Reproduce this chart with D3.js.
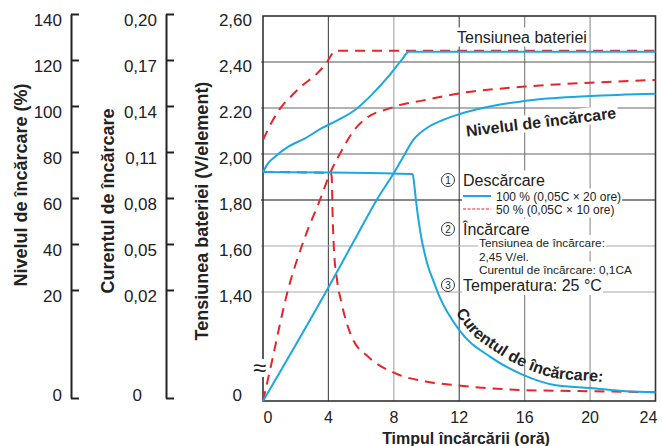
<!DOCTYPE html>
<html>
<head>
<meta charset="utf-8">
<script src="https://cdn.jsdelivr.net/npm/d3@7"></script>
<style>
body { margin: 0; background: #fff; }
text { font-family: "Liberation Sans", Arial, sans-serif; fill: #222; }
</style>
</head>
<body>
<svg width="662" height="446"></svg>
<script>
// ---------------------------------------------------------------
// data
// ---------------------------------------------------------------
var hourTicks = [0, 4, 8, 12, 16, 20, 24];
var pctTicks = [0, 20, 40, 60, 80, 100, 120, 140];
var pctLabels = ["0", "20", "40", "60", "80", "100", "120", "140"];
var curTicks = [0, 0.02, 0.05, 0.08, 0.11, 0.14, 0.17, 0.20];
var curLabels = ["0", "0,02", "0,05", "0,08", "0,11", "0,14", "0,17", "0,20"];
var voltTicks = [0, 1.4, 1.6, 1.8, 2.0, 2.2, 2.4, 2.6];
var voltLabels = ["0", "1,40", "1,60", "1,80", "2,00", "2.20", "2,40", "2,60"];

// [hour, V/element]
var volt100 = [[0, 1.922], [0.3, 1.958], [0.73, 1.988], [1.55, 2.032], [2.57, 2.068], [3.59, 2.112],
  [4.6, 2.148], [5.62, 2.191], [6.64, 2.257], [7.66, 2.336], [8.48, 2.409], [8.92, 2.445], [24, 2.445]];
var volt50 = [[0, 2.061], [0.57, 2.143], [1.1, 2.203], [1.75, 2.253], [2.46, 2.301], [3.14, 2.339],
  [3.79, 2.387], [4.46, 2.449], [24, 2.449]];
// [hour, %]
var level100 = [[0, 0], [4, 22], [5.93, 47], [6.95, 60], [7.96, 71.3], [8.58, 78.8], [9.19, 86.1],
  [10, 91.2], [11, 94.8], [12, 97.3], [14.5, 101.5], [16.5, 103.5], [20, 105.2], [24, 106.2]];
var level50 = [[0, 0], [0.43, 5.7], [1.53, 20.9], [2.57, 43.9], [3.48, 60], [4.16, 72.6], [4.83, 81.7],
  [5.44, 89.1], [6.42, 96.1], [7.64, 99.6], [8.37, 101.3], [9.72, 103.2], [12.04, 106.4], [16, 109.3],
  [20, 111], [24, 112.2]];
// [hour, CA]
var cur100 = [[0, 0.0983], [9.15, 0.097], [9.25, 0.0898], [9.35, 0.080], [9.6, 0.0604], [10.1, 0.0365],
  [10.4, 0.0278], [10.8, 0.0191], [12, 0.0130], [13.9, 0.0081], [15.9, 0.0048], [17.9, 0.0029],
  [20, 0.0024], [22.2, 0.0018], [24, 0.0016]];
var cur50 = [[0, 0.0983], [4.15, 0.0976], [4.2, 0.0952], [4.26, 0.0691], [4.34, 0.0474], [4.5, 0.030],
  [4.81, 0.0179], [5.42, 0.0118], [6.44, 0.0081], [8.07, 0.0051], [10.1, 0.0035], [11.74, 0.0029],
  [16, 0.0020], [20, 0.0018], [24, 0.0016]];

// ---------------------------------------------------------------
// scales (the lowest band of every y axis is stretched: 0 .. first tick)
// ---------------------------------------------------------------
var svg = d3.select("svg");
var plotL = 263, plotR = 655.5, plotT = 16, plotB = 401;
var blue = "#1ba7e1", red = "#e8242b";

var x = d3.scaleLinear().domain([0, 24]).range([plotL, plotR]);
var yVolt = d3.scaleLinear().domain([0, 1.4, 2.6]).range([plotB, 292, plotT]);
var yLevel = d3.scaleLinear().domain([0, 20, 140]).range([plotB, 292, plotT]);
var yCur = d3.scaleLinear().domain([0, 0.02, 0.20]).range([plotB, 292, plotT]);

// grid
var vGridColor = {4: "#555", 8: "#aaa", 12: "#555", 16: "#888", 20: "#999"};
var hGridColor = {1.4: "#aaa", 1.6: "#aaa", 1.8: "#111", 2.0: "#666", 2.2: "#666", 2.4: "#555"};

svg.append("g").selectAll("line")
  .data(hourTicks.filter(d => d > 0 && d < 24))
  .join("line")
  .attr("x1", d => x(d)).attr("x2", d => x(d))
  .attr("y1", plotT).attr("y2", plotB)
  .attr("stroke", d => vGridColor[d]).attr("stroke-width", 1.2);

svg.append("g").selectAll("line")
  .data(voltTicks.filter(d => d > 0 && d < 2.6))
  .join("line")
  .attr("x1", plotL - 2).attr("x2", plotR)
  .attr("y1", d => yVolt(d)).attr("y2", d => yVolt(d))
  .attr("stroke", d => hGridColor[d]).attr("stroke-width", 1.2);

svg.append("rect")
  .attr("x", plotL).attr("y", plotT)
  .attr("width", plotR - plotL).attr("height", plotB - plotT)
  .attr("fill", "none").attr("stroke", "#333").attr("stroke-width", 1.6);

// ---------------------------------------------------------------
// curves
// ---------------------------------------------------------------
function lineFor(yScale) {
  return d3.line().x(d => x(d[0])).y(d => yScale(d[1])).curve(d3.curveMonotoneX);
}
var series = [
  {data: level50, y: yLevel, color: red, dash: "10,7"},
  {data: cur50, y: yCur, color: red, dash: "10,7"},
  {data: volt50, y: yVolt, color: red, dash: "10,7"},
  {data: level100, y: yLevel, color: blue, dash: null},
  {data: cur100, y: yCur, color: blue, dash: null, id: "cur100"},
  {data: volt100, y: yVolt, color: blue, dash: null}
];
series.forEach(function(s) {
  svg.append("path")
    .attr("d", lineFor(s.y)(s.data))
    .attr("id", s.id || null)
    .attr("fill", "none")
    .attr("stroke", s.color)
    .attr("stroke-width", 2)
    .attr("stroke-dasharray", s.dash);
});

// ---------------------------------------------------------------
// left axes
// ---------------------------------------------------------------
function bracketAxis(xPos, ticks, labels, zeroShift) {
  var yAx = d3.scaleLinear().domain([0, ticks[1], ticks[ticks.length - 1]]).range([398, 290, 14]);
  var g = svg.append("g").attr("transform", "translate(" + xPos + ",0)")
    .call(d3.axisLeft(yAx).tickValues(ticks)
      .tickFormat((d, i) => labels[i])
      .tickSizeInner(-8).tickSizeOuter(0).tickPadding(9));
  g.select(".domain").attr("stroke", "#222").attr("stroke-width", 2);
  g.selectAll(".tick line").attr("stroke", "#222").attr("stroke-width", 2);
  g.selectAll(".tick text")
    .attr("font-size", 17).attr("fill", "#222")
    .style("font-family", '"Liberation Sans", Arial, sans-serif')
    .attr("y", d => d === 0 ? -3 : 6)
    .attr("x", d => d === 0 ? -9 + zeroShift : -9);
}
bracketAxis(71, pctTicks, pctLabels, 0);
bracketAxis(166, curTicks, curLabels, -15);

// voltage labels (no axis line)
svg.append("g").selectAll("text")
  .data(voltTicks)
  .join("text")
  .attr("x", d => d === 0 ? 242 : 252)
  .attr("y", d => d === 0 ? 395 : yVolt(d) + 4)
  .attr("text-anchor", "end")
  .attr("dominant-baseline", "central")
  .attr("font-size", 17)
  .text((d, i) => voltLabels[i]);

// hour labels (the end ones sit a little inwards)
var hourNudge = {0: 5, 24: -7};
svg.append("g").selectAll("text")
  .data(hourTicks)
  .join("text")
  .attr("x", d => x(d) + (hourNudge[d] || 0))
  .attr("y", 417)
  .attr("text-anchor", "middle")
  .attr("dominant-baseline", "central")
  .attr("font-size", 16)
  .text(d => d);

// axis titles
var titles = [
  {t: "Nivelul de încărcare (%)", x: 21, y: 185},
  {t: "Curentul de încărcare", x: 108, y: 201},
  {t: "Tensiunea bateriei (V/element)", x: 202, y: 211}
];
titles.forEach(function(d) {
  svg.append("text")
    .attr("transform", "translate(" + d.x + "," + d.y + ") rotate(-90)")
    .attr("text-anchor", "middle").attr("dominant-baseline", "central")
    .attr("font-size", 18).attr("font-weight", "bold")
    .text(d.t);
});
svg.append("text")
  .attr("x", 466).attr("y", 438)
  .attr("text-anchor", "middle").attr("dominant-baseline", "central")
  .attr("font-size", 16).attr("font-weight", "bold")
  .text("Timpul încărcării (oră)");

// ---------------------------------------------------------------
// labels on a white ground
// ---------------------------------------------------------------
var boxes = svg.append("g");
var notes = svg.append("g");

function boxed(sel, pad) {
  var b = sel.node().getBBox();
  boxes.append("rect")
    .attr("x", b.x - pad).attr("y", b.y - 1)
    .attr("width", b.width + 2 * pad).attr("height", b.height + 2)
    .attr("fill", "#fff");
  return sel;
}
function note(txt, px, py, size) {
  return notes.append("text")
    .attr("x", px).attr("y", py)
    .attr("dominant-baseline", "central")
    .attr("font-size", size)
    .text(txt);
}

boxed(note("Tensiunea bateriei", 457, 37, 16), 2);

// axis break mark
boxes.append("rect").attr("x", 252).attr("y", 359).attr("width", 15).attr("height", 18).attr("fill", "#fff");
note("≈", 259.5, 367, 24).attr("text-anchor", "middle");

// legend
[["1", 180], ["2", 229], ["3", 285]].forEach(function(d) {
  notes.append("circle").attr("cx", 448).attr("cy", d[1]).attr("r", 6.5)
    .attr("fill", "#fff").attr("stroke", "#222").attr("stroke-width", 0.9);
  notes.append("text").attr("x", 448).attr("y", d[1] + 0.5)
    .attr("text-anchor", "middle").attr("dominant-baseline", "central")
    .attr("font-size", 10).text(d[0]);
});
boxed(note("Descărcare", 463, 180, 16), 1);
boxed(note("100 % (0,05C × 20 ore)", 496, 196.5, 12), 1);
boxed(note("50 % (0,05C × 10 ore)", 496, 209.5, 12), 1);
boxes.append("rect").attr("x", 462).attr("y", 190).attr("width", 34).attr("height", 25).attr("fill", "#fff");
notes.append("line").attr("x1", 463).attr("x2", 491).attr("y1", 196).attr("y2", 196)
  .attr("stroke", blue).attr("stroke-width", 2);
notes.append("line").attr("x1", 463).attr("x2", 491).attr("y1", 209).attr("y2", 209)
  .attr("stroke", red).attr("stroke-width", 1.2).attr("stroke-dasharray", "3,1.6");
boxed(note("Încărcare", 463, 229, 16), 1);
boxed(note("Tensiunea de încărcare:", 479, 243, 11.8), 1);
boxed(note("2,45 V/el.", 479, 257, 11.8), 1);
boxed(note("Curentul de încărcare: 0,1CA", 479, 269.5, 11.8), 1);
boxed(note("Temperatura: 25 °C", 463, 285.5, 16), 1);

// "Nivelul de încărcare", slightly tilted
var lvl = svg.append("g").attr("transform", "translate(541,122) rotate(-7)");
var lvlBox = lvl.append("rect").attr("fill", "#fff");
var lvlText = lvl.append("text")
  .attr("text-anchor", "middle").attr("dominant-baseline", "central")
  .attr("font-size", 16).attr("font-weight", "bold")
  .text("Nivelul de încărcare");
var lb = lvlText.node().getBBox();
lvlBox.attr("x", lb.x - 2).attr("y", lb.y).attr("width", lb.width + 4).attr("height", lb.height);

// "Curentul de încărcare:" follows the 100 % current curve
var curNode = d3.select("#cur100").node();
var total = curNode.getTotalLength();
var pts = [];
for (var l = 0; l <= total; l += 2) {
  var p = curNode.getPointAtLength(l);
  if (p.x < 447) continue;
  var q = curNode.getPointAtLength(Math.min(total, l + 1));
  var dx = q.x - p.x, dy = q.y - p.y, n = Math.hypot(dx, dy) || 1;
  pts.push([p.x + dy / n * 7, p.y - dx / n * 7]);
}
svg.append("path").attr("id", "curLabelPath")
  .attr("d", d3.line().curve(d3.curveBasis)(pts))
  .attr("fill", "none");
svg.append("text")
  .attr("font-size", 16).attr("font-weight", "bold")
  .append("textPath")
  .attr("href", "#curLabelPath")
  .attr("startOffset", 4)
  .text("Curentul de încărcare:");
</script>
</body>
</html>
